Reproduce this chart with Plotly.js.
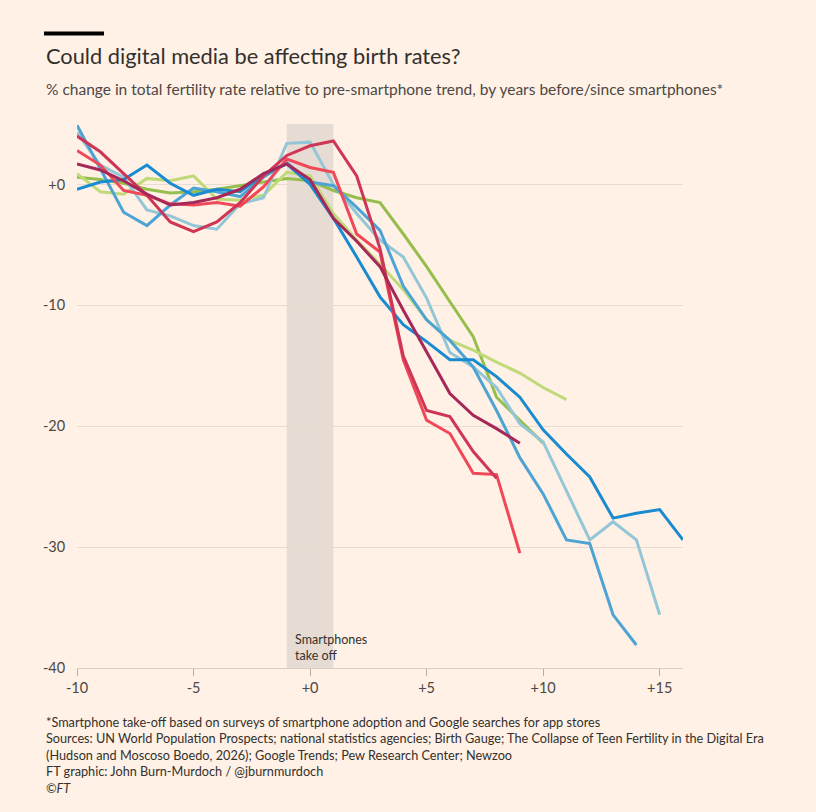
<!DOCTYPE html>
<html>
<head>
<meta charset="utf-8">
<script src="https://cdn.plot.ly/plotly-3.0.1.min.js"></script>
<style>
  html, body { margin: 0; padding: 0; background: #fff1e5; }
  #chart { width: 816px; height: 812px; }
</style>
</head>
<body>
<div id="chart"></div>
<script>
// Years before/since smartphone take-off
const years = [-10,-9,-8,-7,-6,-5,-4,-3,-2,-1,0,1,2,3,4,5,6,7,8,9,10,11,12,13,14,15,16];

// % change in TFR relative to pre-smartphone trend
const darkBlue  = [-0.4,0.2,0.4,1.6,0.1,-0.9,-0.4,-0.6,0.8,1.7,0.0,-2.8,-6.0,-9.3,-11.6,-13.0,-14.5,-14.5,-15.9,-17.6,-20.3,-22.3,-24.2,-27.6,-27.2,-26.9,-29.4];
const midBlue   = [4.9,1.3,-2.3,-3.4,-1.7,-0.3,-0.6,-1.0,0.6,1.8,0.2,-0.1,-1.9,-3.8,-8.4,-11.2,-12.9,-15.1,-18.7,-22.6,-25.6,-29.4,-29.7,-35.6,-38.1];
const paleBlue  = [4.3,1.6,0.6,-2.1,-2.6,-3.4,-3.7,-1.6,-1.1,3.4,3.5,0.0,-2.4,-4.6,-6.0,-9.4,-13.9,-15.1,-16.8,-19.8,-21.3,-25.3,-29.4,-27.9,-29.4,-35.6];
const lightGreen= [0.9,-0.6,-0.8,0.5,0.3,0.7,-1.2,-1.3,-0.9,1.0,0.7,-2.4,-4.6,-6.6,-8.7,-11.2,-12.9,-13.7,-14.7,-15.6,-16.8,-17.8];
const green     = [0.6,0.4,0.1,-0.4,-0.7,-0.6,-0.4,-0.1,0.2,0.5,0.3,-0.5,-1.1,-1.5,-4.1,-6.8,-9.7,-12.6,-17.6,-19.5,-21.4];
const red       = [2.8,1.6,-0.5,-0.9,-1.6,-1.7,-1.5,-1.8,-0.2,2.1,1.4,1.0,-4.1,-5.6,-14.5,-19.5,-20.6,-23.9,-24.0,-30.5];
const crimson   = [4.0,2.7,0.9,-0.9,-3.1,-3.9,-3.1,-1.5,0.7,2.4,3.2,3.6,0.7,-5.3,-14.2,-18.7,-19.2,-22.1,-24.3];
const maroon    = [1.7,1.2,0.3,-0.8,-1.7,-1.5,-1.1,-0.4,0.9,1.7,0.4,-2.8,-4.7,-6.8,-10.4,-13.9,-17.3,-19.1,-20.2,-21.4];

const xTickVals = [-10,-5,0,5,10,15];
const xTickText = ['-10','-5','+0','+5','+10','+15'];
const yTickVals = [0,-10,-20,-30,-40];
const yTickText = ['+0','-10','-20','-30','-40'];

const titleText = 'Could digital media be affecting birth rates?';
const subtitleText = '% change in total fertility rate relative to pre-smartphone trend, by years before/since smartphones*';
const annotationText = 'Smartphones<br>take off';
const footerLines = [
  '*Smartphone take-off based on surveys of smartphone adoption and Google searches for app stores',
  'Sources: UN World Population Prospects; national statistics agencies; Birth Gauge; The Collapse of Teen Fertility in the Digital Era',
  '(Hudson and Moscoso Boedo, 2026); Google Trends; Pew Research Center; Newzoo',
  'FT graphic: John Burn-Murdoch / @jburnmurdoch',
  '<i>©FT</i>'
];

const seriesList = [
  {y: green,      color: '#96be4d'},
  {y: lightGreen, color: '#c0da7a'},
  {y: paleBlue,   color: '#93c6d6'},
  {y: midBlue,    color: '#4ea3d5'},
  {y: darkBlue,   color: '#1a8bd0'},
  {y: red,        color: '#f04858'},
  {y: crimson,    color: '#cf3656'},
  {y: maroon,     color: '#a62858'}
];

const FONT = 'Lato, "Noto Sans", sans-serif';

const traces = seriesList.map(s => ({
  type: 'scatter',
  mode: 'lines',
  x: years.slice(0, s.y.length),
  y: s.y,
  line: {color: s.color, width: 3, shape: 'linear'},
  hoverinfo: 'x+y',
  showlegend: false
}));

// plot area geometry (pixels) for paper coordinates
const W = 816, H = 812;
const L = 77, R = 683.5, T = 123.5, B = 668;
const px = v => (v - L) / (R - L);
const py = v => (B - v) / (B - T);

const annotations = [
  {xref:'paper', yref:'paper', x: px(44), y: py(55), xanchor:'left', yanchor:'middle',
   text: titleText, showarrow:false, font:{family:FONT, size:21.8, color:'#33302e'}},
  {xref:'paper', yref:'paper', x: px(44), y: py(88), xanchor:'left', yanchor:'middle',
   text: subtitleText, showarrow:false, font:{family:FONT, size:15.5, color:'#4d4845'}},
  {xref:'x', yref:'y', x: -0.72, y: -38.3, xanchor:'left', yanchor:'middle', align:'left',
   text: annotationText, showarrow:false, font:{family:FONT, size:12.5, color:'#33302e'}}
];
const footerY = [722, 738.5, 755, 771.5, 788];
footerLines.forEach((t, i) => {
  annotations.push({xref:'paper', yref:'paper', x: px(44), y: py(footerY[i]), xanchor:'left', yanchor:'middle',
    text: t, showarrow:false, font:{family:FONT, size:12.7, color:'#33302e'}});
});

const layout = {
  width: W, height: H,
  paper_bgcolor: '#fff1e5',
  plot_bgcolor: '#fff1e5',
  margin: {l: L, r: W - R, t: T, b: H - B, pad: 0},
  font: {family: FONT, color: '#66605c'},
  xaxis: {
    range: [-10, 16], tickvals: xTickVals, ticktext: xTickText,
    showgrid: false, zeroline: false,
    showline: true, linecolor: '#d9cdc2', linewidth: 1,
    ticks: 'outside', ticklen: 7, tickcolor: '#b8ada4', tickwidth: 1,
    tickfont: {family: FONT, size: 14.5, color: '#4d4845'},
    fixedrange: true
  },
  yaxis: {
    range: [-40, 5], tickvals: yTickVals, ticktext: yTickText,
    showgrid: true, gridcolor: '#e8dcd1', gridwidth: 1, zeroline: false,
    showline: false, ticks: 'outside', ticklen: 8, tickcolor: 'rgba(0,0,0,0)',
    tickfont: {family: FONT, size: 14.5, color: '#4d4845'},
    fixedrange: true
  },
  shapes: [
    {type:'rect', xref:'x', yref:'y', x0:-1, x1:1, y0:-40, y1:5, layer:'below',
     fillcolor:'#e7dcd3', line:{width:0}},
    {type:'rect', xref:'paper', yref:'paper', x0: px(44), x1: px(104), y0: py(35), y1: py(31),
     fillcolor:'#000000', line:{width:0}}
  ],
  annotations: annotations,
  showlegend: false
};

Plotly.newPlot('chart', traces, layout, {displayModeBar: false, staticPlot: true});
</script>
</body>
</html>
